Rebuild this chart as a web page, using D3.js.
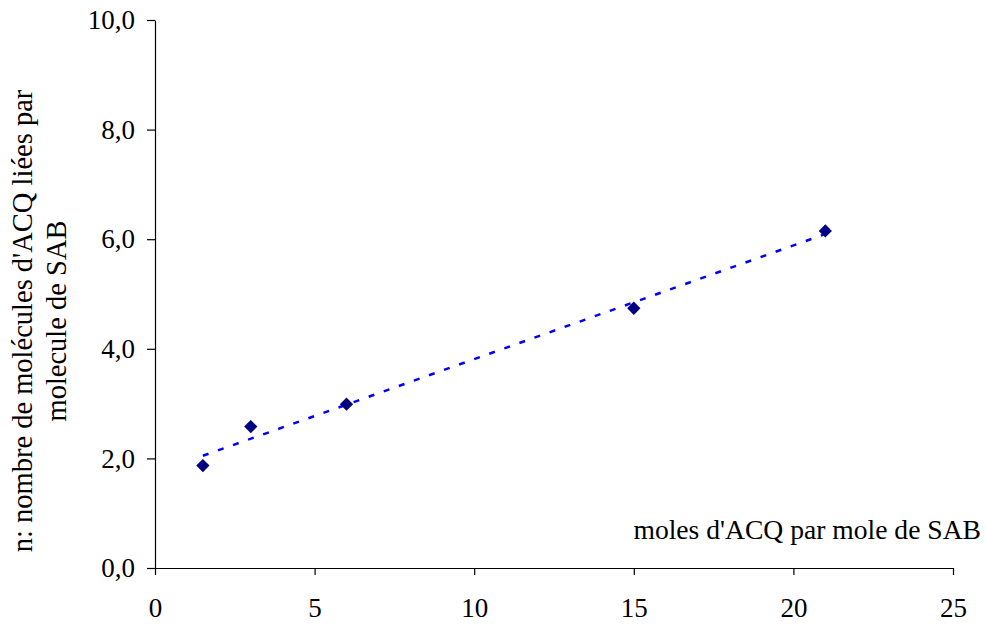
<!DOCTYPE html>
<html><head><meta charset="utf-8">
<script src="https://cdn.jsdelivr.net/npm/d3@7"></script>
<style>body{margin:0;background:#fff}svg{display:block}</style>
</head><body>
<svg id="c" width="986" height="625"></svg>
<script>
const xValues = [1.5, 3, 6, 15, 21];
const yValues = [1.87, 2.58, 2.99, 4.74, 6.15];
const xTicks = [0, 5, 10, 15, 20, 25];
const yTicks = [0, 2, 4, 6, 8, 10];
const xTitle = "moles d'ACQ par mole de SAB";
const yTitleLines = ["n: nombre de molécules d'ACQ liées par", "molecule de SAB"];

const svg = d3.select("#c");
const font = "'Liberation Serif', 'Times New Roman', serif";
const fs = 27;
const x = d3.scaleLinear().domain([0, 25]).range([155, 953]);
const y = d3.scaleLinear().domain([0, 10]).range([568, 20]);

const xAxis = svg.append("g").attr("transform", "translate(0,568)")
  .call(d3.axisBottom(x).tickValues(xTicks).tickSize(7).tickSizeOuter(0).tickFormat(d3.format("d")).tickPadding(23));
const yAxis = svg.append("g").attr("transform", "translate(155,0)")
  .call(d3.axisLeft(y).tickValues(yTicks).tickSize(8).tickSizeOuter(0).tickFormat(d => d.toFixed(1).replace(".", ",")).tickPadding(12));
[xAxis, yAxis].forEach(a => {
  a.attr("font-size", fs).attr("font-family", font);
  a.selectAll("path,line").attr("stroke", "#000").attr("stroke-width", 1.2);
  a.selectAll("text").attr("font-family", font).attr("font-size", fs).attr("fill", "#000");
});

// linear regression trendline
const n = xValues.length;
const mx = d3.mean(xValues), my = d3.mean(yValues);
let sxy = 0, sxx = 0;
for (let i = 0; i < n; i++) { sxy += (xValues[i]-mx)*(yValues[i]-my); sxx += (xValues[i]-mx)**2; }
const slope = sxy/sxx, icpt = my - slope*mx;
const x0 = d3.min(xValues), x1 = d3.max(xValues);
svg.append("line")
  .attr("x1", x(x0)).attr("y1", y(icpt + slope*x0))
  .attr("x2", x(x1)).attr("y2", y(icpt + slope*x1))
  .attr("stroke", "#0000ff").attr("stroke-width", 2.5).attr("stroke-dasharray", "6,10");

const sym = d3.symbol().type(d3.symbolDiamond2).size(112);
svg.selectAll("path.pt").data(xValues).enter().append("path").attr("class","pt")
  .attr("d", sym)
  .attr("transform", (d,i) => `translate(${x(d)},${y(yValues[i])})`)
  .attr("fill", "#000080");

svg.append("text").attr("x", 981).attr("y", 539).attr("text-anchor", "end")
  .attr("font-family", font).attr("font-size", 27.6).text(xTitle);

const yt = svg.append("text").attr("transform", "translate(32,321) rotate(-90)")
  .attr("text-anchor", "middle").attr("font-family", font).attr("font-size", 28.5);
yTitleLines.forEach((t, i) => yt.append("tspan").attr("x", 0).attr("dy", i === 0 ? 0 : 34).text(t));
</script>
</body></html>
